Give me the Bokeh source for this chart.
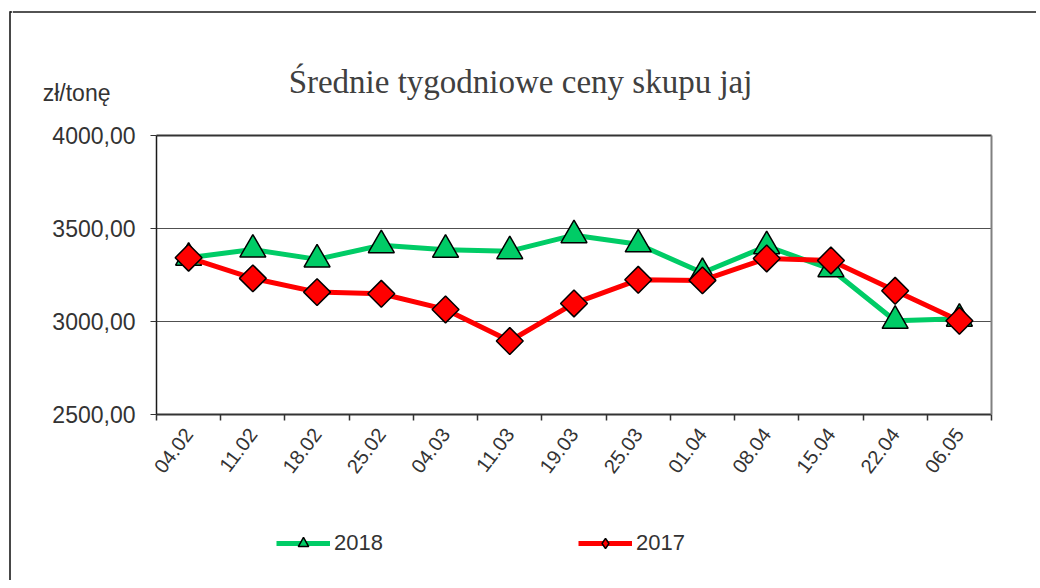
import math
from bokeh.plotting import figure
from bokeh.models import (FixedTicker, Label, Legend, LegendItem, Range1d, LinearAxis)
from bokeh.layouts import row, column
from bokeh.embed import file_html
from bokeh.resources import INLINE

# ---- data ----
dates = ["04.02", "11.02", "18.02", "25.02", "04.03", "11.03", "19.03",
         "25.03", "01.04", "08.04", "15.04", "22.04", "06.05"]
prices_2018 = [3343, 3387, 3334, 3410, 3386, 3378, 3464,
               3415, 3262, 3405, 3281, 3004, 3015]
prices_2017 = [3343, 3232, 3158, 3149, 3065, 2895, 3097,
               3224, 3221, 3339, 3328, 3165, 3004]
y_ticks = [2500, 3000, 3500, 4000]
title_text = "Średnie tygodniowe ceny skupu jaj"
unit_text = "zł/tonę"
series_names = ["2018", "2017"]

green = "#00CC66"
red = "#FF0000"
txt = "#333333"
frame_col = "#1a1a1a"

n = len(dates)
centers = [i + 0.5 for i in range(n)]
bounds = [float(i) for i in range(n + 1)]

# page geometry (pixels)
STRIP_W = 12
COL_W = 1024
TOPSTRIP_H = 14
TOP_H = 98
MAIN_H = 388
BOT_H = 80
TOTAL_H = TOPSTRIP_H + TOP_H + MAIN_H + BOT_H
PA_LEFT, PA_RIGHT = 156, 991          # plot-area edges on the page
BL, BR = PA_LEFT - STRIP_W, STRIP_W + COL_W - PA_RIGHT


def bare(width, height, xr, yr, **kw):
    f = figure(width=width, height=height, output_backend="svg", toolbar_location=None,
               x_range=xr, y_range=yr, x_axis_location=None, y_axis_location=None, **kw)
    f.outline_line_color = None
    f.xgrid.grid_line_color = None
    f.ygrid.grid_line_color = None
    f.border_fill_color = "white"
    f.background_fill_color = "white"
    return f


# outer chart border: left edge and top edge
left_strip = bare(STRIP_W, TOTAL_H, Range1d(0, STRIP_W), Range1d(TOTAL_H, 0), min_border=0)
left_strip.segment(x0=[9.5, 9.5], y0=[10.7, 11.5], x1=[9.5, STRIP_W], y1=[TOTAL_H, 11.5],
                   line_color=frame_col, line_width=1.6)
top_strip = bare(COL_W, TOPSTRIP_H, Range1d(0, COL_W), Range1d(TOPSTRIP_H, 0), min_border=0)
top_strip.segment(x0=[0], y0=[11.5], x1=[COL_W], y1=[11.5], line_color=frame_col, line_width=1.6)

# header: title and unit (page pixel coordinates, y downwards)
y0 = TOPSTRIP_H
top = bare(COL_W, TOP_H, Range1d(PA_LEFT, PA_RIGHT), Range1d(y0 + TOP_H, y0),
           min_border_left=BL, min_border_right=BR, min_border_top=0, min_border_bottom=0)
top.add_layout(Label(x=520, y=81, text=title_text, text_align="center",
                     text_baseline="middle", text_font="Liberation Serif",
                     text_font_size="33px", text_color="#404040"))
unit_axis = LinearAxis(ticker=FixedTicker(ticks=[92.5]), major_label_overrides={92.5: unit_text},
                       axis_line_color=None, major_tick_line_color=None,
                       minor_tick_line_color=None, major_tick_out=0, major_tick_in=0,
                       minor_tick_out=0, minor_tick_in=0, major_label_standoff=46,
                       major_label_text_font="Liberation Sans",
                       major_label_text_font_size="23px", major_label_text_color=txt)
top.add_layout(unit_axis, "left")

# main chart
p = figure(width=COL_W, height=MAIN_H, output_backend="svg", toolbar_location=None,
           x_range=Range1d(0, n), y_range=Range1d(2500, 4000),
           min_border_left=BL, min_border_right=BR, min_border_top=135 - TOPSTRIP_H - TOP_H,
           min_border_bottom=TOPSTRIP_H + TOP_H + MAIN_H - 414)
p.outline_line_color = None
p.border_fill_color = "white"
p.background_fill_color = "white"

p.xaxis.ticker = FixedTicker(ticks=centers, minor_ticks=bounds)
p.xaxis.major_label_overrides = {c: d for c, d in zip(centers, dates)}
p.xaxis.major_tick_out = 0
p.xaxis.major_tick_in = 0
p.xaxis.minor_tick_out = 6
p.xaxis.minor_tick_in = 0
p.xaxis.minor_tick_line_color = txt
p.xaxis.minor_tick_line_width = 1.5
p.xaxis.axis_line_color = txt
p.xaxis.axis_line_width = 2
p.xaxis.major_label_orientation = math.radians(53)
p.xaxis.major_label_standoff = 10
p.xaxis.major_label_text_font = "Liberation Sans"
p.xaxis.major_label_text_font_size = "20px"
p.xaxis.major_label_text_color = txt

p.yaxis.ticker = FixedTicker(ticks=y_ticks, minor_ticks=[])
p.yaxis.major_label_overrides = {t: f"{t:.2f}".replace(".", ",") for t in y_ticks}
p.yaxis.major_tick_out = 6
p.yaxis.major_tick_in = 0
p.yaxis.major_tick_line_color = txt
p.yaxis.axis_line_color = frame_col
p.yaxis.axis_line_width = 1.5
p.yaxis.major_label_standoff = 15
p.yaxis.major_label_text_font = "Liberation Sans"
p.yaxis.major_label_text_font_size = "23px"
p.yaxis.major_label_text_color = txt

# dark top edge and grey right edge of the plot area
edge_kw = dict(ticker=FixedTicker(ticks=[]), major_tick_out=0, major_tick_in=0,
               minor_tick_out=0, minor_tick_in=0, major_label_standoff=0,
               major_tick_line_color=None, minor_tick_line_color=None)
p.add_layout(LinearAxis(axis_line_color=txt, axis_line_width=2, **edge_kw), "above")
p.add_layout(LinearAxis(axis_line_color="#808080", axis_line_width=2, **edge_kw), "right")

p.xgrid.grid_line_color = None
p.ygrid.ticker = FixedTicker(ticks=y_ticks)
p.ygrid.grid_line_color = "#505050"
p.ygrid.grid_line_width = 1.2

line_kw = dict(line_width=5)
tri_kw = dict(marker="triangle", size=26, fill_color=green, line_color="black", line_width=1.5)
dia_kw = dict(marker="square", size=19, angle=math.pi / 4, fill_color=red,
              line_color="black", line_width=1.5)

p.line(centers, prices_2018, line_color=green, **line_kw)
p.scatter(centers, prices_2018, **tri_kw)
p.line(centers, prices_2017, line_color=red, **line_kw)
p.scatter(centers, prices_2017, **dia_kw)

# footer: legend (the series are re-plotted here outside the visible range,
# only so that the legend can show their line + marker samples)
yb = TOPSTRIP_H + TOP_H + MAIN_H
bot = bare(COL_W, BOT_H, Range1d(PA_LEFT, PA_RIGHT), Range1d(yb + BOT_H, yb),
           min_border_left=BL, min_border_right=BR, min_border_top=0, min_border_bottom=0)
bg_l = bot.line(centers, prices_2018, line_color=green, **line_kw)
bg_s = bot.scatter(centers, prices_2018, **tri_kw)
br_l = bot.line(centers, prices_2017, line_color=red, **line_kw)
br_s = bot.scatter(centers, prices_2017, marker="diamond", size=26, fill_color=red,
                   line_color="black", line_width=1.5)
legend = Legend(items=[LegendItem(label=series_names[0], renderers=[bg_l, bg_s]),
                       LegendItem(label=series_names[1], renderers=[br_l, br_s])],
                orientation="horizontal", location=(120, 24),
                glyph_width=54, glyph_height=26, label_height=26, label_standoff=4,
                label_width=244, spacing=0, padding=0, margin=0,
                border_line_color=None, background_fill_alpha=0,
                label_text_font="Liberation Sans", label_text_font_size="22px",
                label_text_color=txt)
bot.add_layout(legend, "center")

layout = row(left_strip, column(top_strip, column(top, p, bot)))
open("out.html", "w").write(file_html(layout, INLINE))
